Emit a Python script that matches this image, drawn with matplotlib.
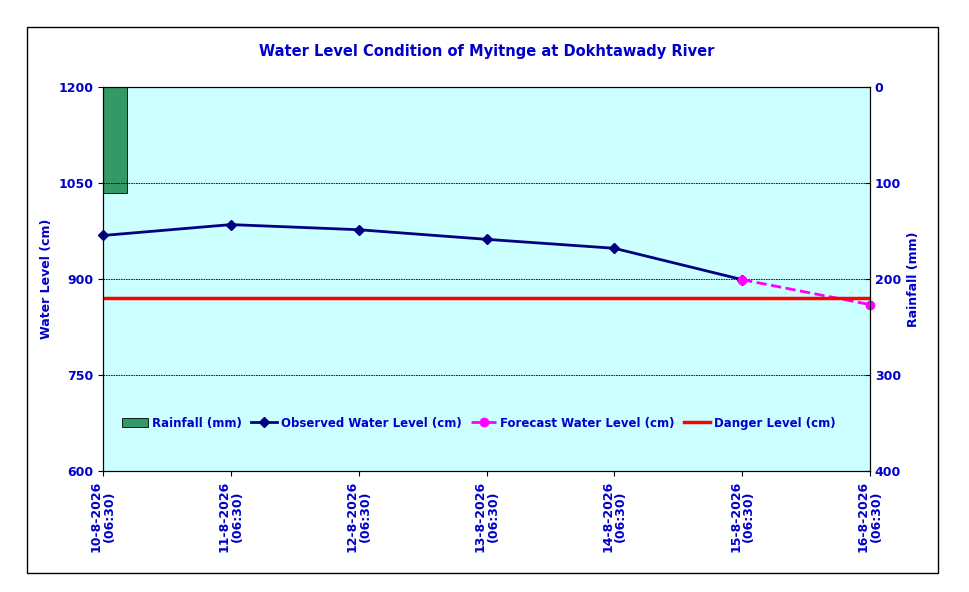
import matplotlib.pyplot as plt
from matplotlib.patches import Rectangle

dates = ["10-8-2026\n(06:30)", "11-8-2026\n(06:30)", "12-8-2026\n(06:30)",
         "13-8-2026\n(06:30)", "14-8-2026\n(06:30)", "15-8-2026\n(06:30)",
         "16-8-2026\n(06:30)"]
observed = [968, 985, 977, 962, 948, 899]
forecast_x = [5, 6]
forecast = [899, 860]
danger = 870
rain_x = [0]
rain = [110]

blue = "#0000CC"
fig = plt.figure(figsize=(9.69, 5.92), dpi=100)
fig.patches.append(Rectangle((27/969, 19/592), 911/969, 546/592, transform=fig.transFigure,
                             fill=False, edgecolor="black", linewidth=1))
ax = fig.add_axes([103/969, 121/592, 767/969, 384/592])
ax2 = ax.twinx()

ax2.bar(rain_x, rain, width=0.19, align="edge", color="#339966", edgecolor="black",
        linewidth=0.6, label="Rainfall (mm)")
ax.set_zorder(ax2.get_zorder() + 1)
ax.patch.set_visible(False)
ax2.patch.set_visible(True)
ax2.patch.set_facecolor("#CCFFFF")

for y in [750, 900, 1050]:
    ax.axhline(y, color="black", linewidth=0.6, linestyle=(0, (2, 1)))
ax.plot(range(len(observed)), observed, color="#000080", marker="D", markersize=5,
        linewidth=2, label="Observed Water Level (cm)", clip_on=False)
ax.plot(forecast_x, forecast, color="#FF00FF", marker="o", markersize=6, linewidth=2,
        linestyle="--", label="Forecast Water Level (cm)", clip_on=False)
ax.plot([0, 6], [danger, danger], color="red", linewidth=2.5, label="Danger Level (cm)")

ax.set_xlim(0, 6)
ax.set_ylim(600, 1200)
ax.set_yticks([600, 750, 900, 1050, 1200])
ax2.set_ylim(400, 0)
ax2.set_yticks([0, 100, 200, 300, 400])
ax.set_xticks(range(7))
ax.set_xticklabels(dates, rotation=90, fontsize=9, fontweight="bold", color=blue,
                   linespacing=1.0)
for a in (ax, ax2):
    a.tick_params(labelsize=9, labelcolor=blue, direction="in" if a is ax2 else "out")
    for t in a.get_yticklabels():
        t.set_fontweight("bold")
ax.tick_params(axis="x", direction="out")
ax.set_ylabel("Water Level (cm)", color=blue, fontsize=9, fontweight="bold")
ax2.set_ylabel("Rainfall (mm)", color=blue, fontsize=9, fontweight="bold")
ax.set_title("Water Level Condition of Myitnge at Dokhtawady River", color=blue,
             fontsize=10.5, fontweight="bold", pad=22)

h2, l2 = ax2.get_legend_handles_labels()
h1, l1 = ax.get_legend_handles_labels()
leg = ax.legend(h2 + h1, l2 + l1, loc="center", bbox_to_anchor=(0.49, 0.125), ncol=4,
                frameon=False, fontsize=8.5, handlelength=2.2, columnspacing=0.8,
                handletextpad=0.3)
for t in leg.get_texts():
    t.set_color(blue)
    t.set_fontweight("bold")

fig.savefig("out.png", dpi=100)
